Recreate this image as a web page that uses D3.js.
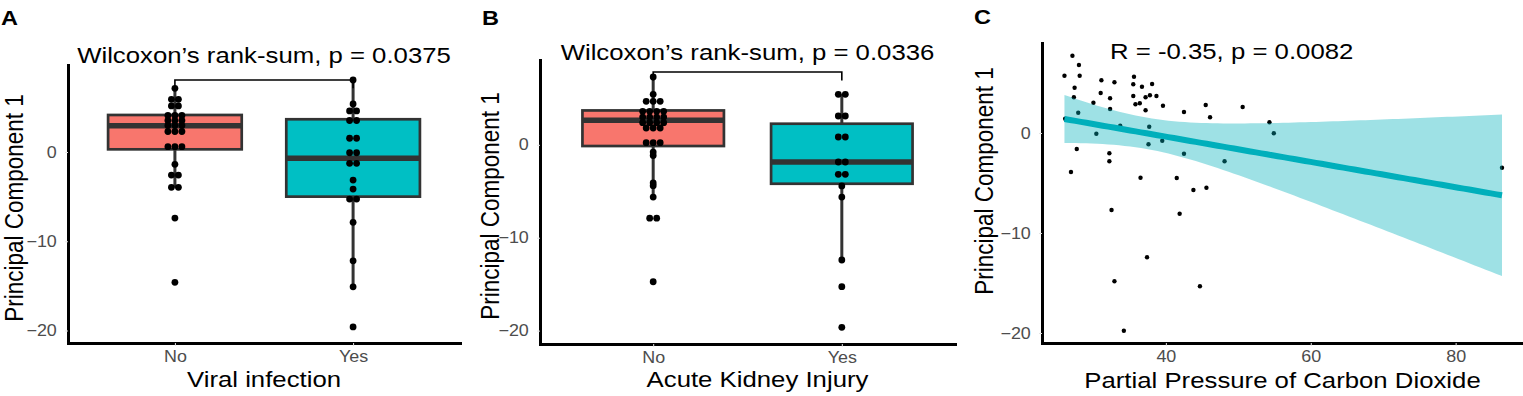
<!DOCTYPE html>
<html>
<head>
<meta charset="utf-8">
<script src="https://cdn.jsdelivr.net/npm/d3@7"></script>
<style>
  body{margin:0;background:#fff;}
  svg{display:block;}
</style>
</head>
<body>
<div id="chart"></div>
<script>
// ---- data ----
const groups=["No","Yes"];

// A: PC1 by viral infection (repeated values = dots stacked side by side)
const viralNo=[7.14,5.9,5.9,5.16,5.16,4.1,4.1,4.1,3.53,3.53,3.53,2.97,2.97,2.97,2.3,2.3,2.3,0.6,0.6,0.6,-1.38,-2.58,-2.58,-3.96,-3.96,-7.4,-14.6];
const viralYes=[8.07,5.38,4.6,4.6,3.53,3.53,1.54,1.54,-0.08,-0.08,-1.27,-1.27,-3.14,-4.15,-5.27,-5.27,-7.88,-12.19,-15.1,-19.6];
const viralQ1=[0.3,-5.0], viralMedian=[2.95,-0.71], viralQ3=[4.15,3.67];
const viralLow=[-3.96,-15.1], viralHigh=[7.14,8.07];
const viralBracket=8.07;

// B: PC1 by acute kidney injury
const akiNo=[7.3,5.44,4.68,4.68,4.68,3.6,3.6,3.6,3.6,2.99,2.99,2.99,2.99,2.38,2.38,2.38,2.38,1.81,1.81,1.81,0.23,0.23,0.23,-0.78,-1.15,-4.1,-4.4,-5.62,-7.9,-7.9,-14.74];
const akiYes=[5.44,5.44,3.1,3.1,0.84,0.84,-1.85,-1.85,-3.18,-3.18,-4.43,-5.62,-12.4,-15.27,-19.65];
const akiQ1=[-0.13,-4.19], akiMedian=[2.64,-1.85], akiQ3=[3.7,2.27];
const akiLow=[-5.62,-12.4], akiHigh=[7.3,5.44];
const akiBracket=7.84;

// C: PC1 vs partial pressure of CO2
const pco2=[27.1,28.0,26.0,28.1,27.4,27.3,31.1,32.9,31.0,32.3,30.0,32.3,27.9,26.1,35.6,35.5,36.7,38.1,35.5,37.2,37.8,38.7,35.8,36.4,37.2,39.6,42.5,45.5,46.1,50.6,54.3,54.9,33.7,37.7,30.4,37.6,39.5,27.7,32.2,32.2,42.5,48.1,26.9,36.5,41.5,43.8,45.6,86.4,32.5,41.9,37.4,32.9,44.7,34.2];
const pc1=[7.73,6.8,5.73,5.73,4.53,3.57,5.27,5.07,4.0,3.47,3.03,2.4,2.03,1.43,5.63,4.87,4.63,4.9,3.7,3.57,3.77,3.7,2.87,2.97,2.27,2.73,2.1,2.8,1.57,2.6,1.07,-0.03,0.73,0.63,-0.07,-1.13,-0.77,-1.6,-2.03,-2.83,-2.07,-2.83,-3.9,-4.47,-4.5,-5.7,-5.47,-3.47,-7.7,-8.07,-12.43,-14.83,-15.33,-19.77];

const yTicks=[-20,-10,0];
const xTicksC=[40,60,80];

// ---- layout ----
const SX=1.12; // the source figure is stretched horizontally; text follows suit
const FONT='"Liberation Sans",Arial,Helvetica,sans-serif';
const fills=["#F8766D","#00BFC4"];
const svg=d3.select("#chart").append("svg")
  .attr("width",1523).attr("height",396)
  .attr("font-family",FONT);

function htext(g,x,y,str,size,o={}){
  return g.append("text")
    .attr("transform",`translate(${x},${y}) scale(${SX},1)`)
    .attr("text-anchor",o.anchor||"middle")
    .attr("font-size",size)
    .attr("font-weight",o.weight||400)
    .attr("fill",o.fill||"#000")
    .text(str);
}
function vtext(g,x,y,str,size){
  return g.append("text")
    .attr("transform",`translate(${x},${y}) scale(${SX},1) rotate(-90)`)
    .attr("text-anchor","middle")
    .attr("font-size",size)
    .text(str);
}
function styleAxis(sel){
  sel.attr("font-family",FONT);
  sel.select(".domain").attr("stroke","#000").attr("stroke-width",3).attr("stroke-linecap","square");
  sel.selectAll(".tick line").attr("stroke","#e4e4e4");
  sel.selectAll(".tick text")
    .attr("font-size",16).attr("fill","#4d4d4d")
    .attr("transform",`scale(${SX},1)`);
}

function boxPanel(cfg){
  const {box,domain,values,q1,med,q3,lo,hi,bracket,title,titleY,xTitle,xTitleShift,yTitleX,letter,letterX}=cfg;
  const g=svg.append("g");
  const x=d3.scalePoint().domain(groups).range([box.left,box.right]).padding(0.6);
  const y=d3.scaleLinear().domain(domain).range([box.bottom,box.top]);
  const bw=x.step()*0.75;
  const rows=groups.map((k,i)=>({k,i,q1:q1[i],med:med[i],q3:q3[i],lo:lo[i],hi:hi[i]}));

  g.selectAll(".whisker").data(rows).join("line").attr("class","whisker")
    .attr("x1",d=>x(d.k)).attr("x2",d=>x(d.k))
    .attr("y1",d=>y(d.lo)).attr("y2",d=>y(d.hi))
    .attr("stroke","#333").attr("stroke-width",3);
  g.selectAll(".box").data(rows).join("rect").attr("class","box")
    .attr("x",d=>x(d.k)-bw/2).attr("width",bw)
    .attr("y",d=>y(d.q3)).attr("height",d=>y(d.q1)-y(d.q3))
    .attr("fill",d=>fills[d.i]).attr("stroke","#333").attr("stroke-width",2.7);
  g.selectAll(".median").data(rows).join("line").attr("class","median")
    .attr("x1",d=>x(d.k)-bw/2).attr("x2",d=>x(d.k)+bw/2)
    .attr("y1",d=>y(d.med)).attr("y2",d=>y(d.med))
    .attr("stroke","#333").attr("stroke-width",5.5);

  // dot stacks centred on each category
  const dots=groups.flatMap((k,i)=>
    d3.groups(values[i],v=>v).flatMap(([v,arr])=>
      arr.map((_,j)=>({cx:x(k)+(j-(arr.length-1)/2)*7,cy:y(v)}))));
  g.selectAll(".dot").data(dots).join("circle").attr("class","dot")
    .attr("cx",d=>d.cx).attr("cy",d=>d.cy).attr("r",3.4).attr("fill","#000");

  // significance bracket
  const tip=(y(domain[0])-y(domain[1]))*0.03;
  const yb=y(bracket);
  g.append("path")
    .attr("d",`M${x("No")},${yb+tip}V${yb}H${x("Yes")}V${yb+tip}`)
    .attr("fill","none").attr("stroke","#000").attr("stroke-width",1.6);

  g.append("g").attr("transform",`translate(${box.left},0)`)
    .call(d3.axisLeft(y).tickValues(yTicks).tickSize(3).tickPadding(7).tickSizeOuter(0))
    .call(styleAxis);
  g.append("g").attr("transform",`translate(0,${box.bottom})`)
    .call(d3.axisBottom(x).tickSize(3).tickPadding(5).tickSizeOuter(0))
    .call(styleAxis);

  const cx=(box.left+box.right)/2;
  htext(g,cx,titleY,title,23);
  htext(g,cx+xTitleShift,387,xTitle,23);
  vtext(g,yTitleX,(box.top+box.bottom)/2+4,"Principal Component 1",22.5);
  htext(g,letterX,25,letter,21,{anchor:"start",weight:700});
}

boxPanel({
  box:{left:68,right:460,top:65,bottom:343},domain:[-21.4,9.75],
  values:[viralNo,viralYes],q1:viralQ1,med:viralMedian,q3:viralQ3,lo:viralLow,hi:viralHigh,
  bracket:viralBracket,title:"Wilcoxon\u2019s rank-sum, p = 0.0375",titleY:63,
  xTitle:"Viral infection",xTitleShift:0,yTitleX:23,letter:"A",letterX:1
});
boxPanel({
  box:{left:540,right:955,top:60,bottom:344},domain:[-21.44,9.13],
  values:[akiNo,akiYes],q1:akiQ1,med:akiMedian,q3:akiQ3,lo:akiLow,hi:akiHigh,
  bracket:akiBracket,title:"Wilcoxon\u2019s rank-sum, p = 0.0336",titleY:60,
  xTitle:"Acute Kidney Injury",xTitleShift:10,yTitleX:499,letter:"B",letterX:482
});

// ---- panel C: scatter with linear fit and 95% band ----
(function(){
  const box={left:1042,right:1523,top:43,bottom:343};
  const g=svg.append("g");
  const x=d3.scaleLinear().domain([22.9,89.3]).range([box.left,box.right]);
  const y=d3.scaleLinear().domain([-21,9]).range([box.bottom,box.top]);
  const pts=pco2.map((v,i)=>({x:v,y:pc1[i]}));

  g.selectAll(".pt").data(pts).join("circle").attr("class","pt")
    .attr("cx",d=>x(d.x)).attr("cy",d=>y(d.y)).attr("r",2.2).attr("fill","#000");

  // ordinary least squares, same as geom_smooth(method = "lm")
  const n=pts.length,mx=d3.mean(pco2),my=d3.mean(pc1);
  const sxx=d3.sum(pco2,v=>(v-mx)**2);
  const sxy=d3.sum(pts,d=>(d.x-mx)*(d.y-my));
  const b=sxy/sxx,a=my-b*mx;
  const s=Math.sqrt(d3.sum(pts,d=>(d.y-a-b*d.x)**2)/(n-2));
  const tq=2.0066; // t quantile 0.975, df = n-2
  const [x0,x1]=d3.extent(pco2);
  const grid=d3.range(0,81).map(i=>x0+(x1-x0)*i/80).map(v=>{
    const fit=a+b*v,h=tq*s*Math.sqrt(1/n+(v-mx)**2/sxx);
    return {x:v,fit,lo:fit-h,hi:fit+h};
  });
  g.append("path").datum(grid)
    .attr("d",d3.area().x(d=>x(d.x)).y0(d=>y(d.lo)).y1(d=>y(d.hi)))
    .attr("fill","#00AFBB").attr("fill-opacity",0.38);
  g.append("path").datum(grid)
    .attr("d",d3.line().x(d=>x(d.x)).y(d=>y(d.fit)))
    .attr("fill","none").attr("stroke","#00AFBB").attr("stroke-width",6);

  g.append("g").attr("transform",`translate(${box.left},0)`)
    .call(d3.axisLeft(y).tickValues(yTicks).tickSize(3).tickPadding(7).tickSizeOuter(0))
    .call(styleAxis);
  g.append("g").attr("transform",`translate(0,${box.bottom})`)
    .call(d3.axisBottom(x).tickValues(xTicksC).tickSize(3).tickPadding(5).tickSizeOuter(0))
    .call(styleAxis);

  htext(g,1110,59,"R = -0.35, p = 0.0082",23,{anchor:"start"});
  htext(g,(box.left+box.right)/2,388,"Partial Pressure of Carbon Dioxide",23);
  vtext(g,993,181,"Principal Component 1",22.5);
  htext(g,974,24,"C",21,{anchor:"start",weight:700});
})();
</script>
</body>
</html>
